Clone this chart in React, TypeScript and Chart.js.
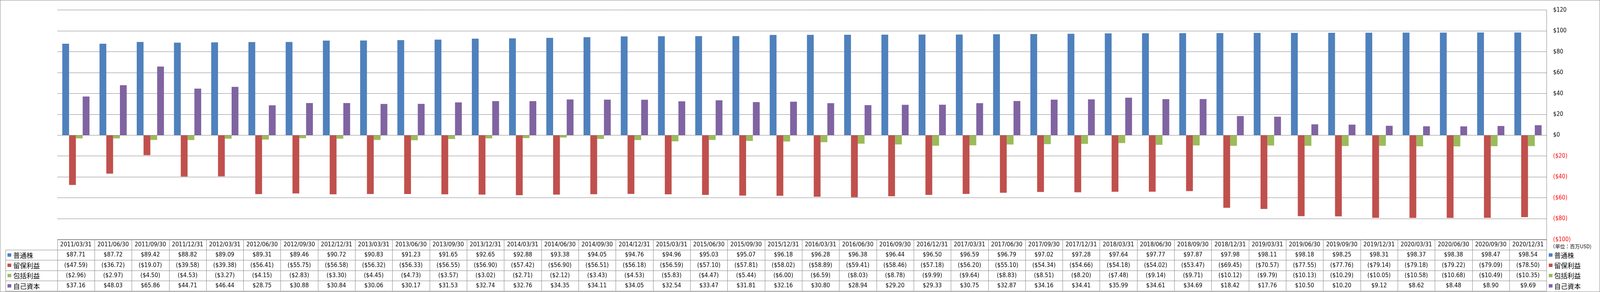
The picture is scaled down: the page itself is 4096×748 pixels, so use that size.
import React, { useEffect, useRef } from 'react';
import { Chart, registerables } from 'chart.js';

Chart.register(...registerables);

const dates = [
  '2011/03/31', '2011/06/30', '2011/09/30', '2011/12/31',
  '2012/03/31', '2012/06/30', '2012/09/30', '2012/12/31',
  '2013/03/31', '2013/06/30', '2013/09/30', '2013/12/31',
  '2014/03/31', '2014/06/30', '2014/09/30', '2014/12/31',
  '2015/03/31', '2015/06/30', '2015/09/30', '2015/12/31',
  '2016/03/31', '2016/06/30', '2016/09/30', '2016/12/31',
  '2017/03/31', '2017/06/30', '2017/09/30', '2017/12/31',
  '2018/03/31', '2018/06/30', '2018/09/30', '2018/12/31',
  '2019/03/31', '2019/06/30', '2019/09/30', '2019/12/31',
  '2020/03/31', '2020/06/30', '2020/09/30', '2020/12/31',
];

const commonStock = [
  87.71, 87.72, 89.42, 88.82, 89.09, 89.31, 89.46, 90.72,
  90.83, 91.23, 91.65, 92.65, 92.88, 93.38, 94.05, 94.76,
  94.96, 95.03, 95.07, 96.18, 96.28, 96.38, 96.44, 96.5,
  96.59, 96.79, 97.02, 97.28, 97.64, 97.77, 97.87, 97.98,
  98.11, 98.18, 98.25, 98.31, 98.37, 98.38, 98.47, 98.54,
];

const retainedEarnings = [
  -47.59, -36.72, -19.07, -39.58, -39.38, -56.41, -55.75, -56.58,
  -56.32, -56.33, -56.55, -56.9, -57.42, -56.9, -56.51, -56.18,
  -56.59, -57.1, -57.81, -58.02, -58.89, -59.41, -58.46, -57.18,
  -56.2, -55.1, -54.34, -54.66, -54.18, -54.02, -53.47, -69.45,
  -70.57, -77.55, -77.76, -79.14, -79.18, -79.22, -79.09, -78.5,
];

const comprehensiveIncome = [
  -2.96, -2.97, -4.5, -4.53, -3.27, -4.15, -2.83, -3.3,
  -4.45, -4.73, -3.57, -3.02, -2.71, -2.12, -3.43, -4.53,
  -5.83, -4.47, -5.44, -6.0, -6.59, -8.03, -8.78, -9.99,
  -9.64, -8.83, -8.51, -8.2, -7.48, -9.14, -9.71, -10.12,
  -9.79, -10.13, -10.29, -10.05, -10.58, -10.68, -10.49, -10.35,
];

const shareholdersEquity = [
  37.16, 48.03, 65.86, 44.71, 46.44, 28.75, 30.88, 30.84,
  30.06, 30.17, 31.53, 32.74, 32.76, 34.35, 34.11, 34.05,
  32.54, 33.47, 31.81, 32.16, 30.8, 28.94, 29.2, 29.33,
  30.75, 32.87, 34.16, 34.41, 35.99, 34.61, 34.69, 18.42,
  17.76, 10.5, 10.2, 9.12, 8.62, 8.48, 8.9, 9.69,
];

const seriesNames = ['普通株', '留保利益', '包括利益', '自己資本'];
const seriesColors = ['#4F81BD', '#C0504D', '#9BBB59', '#8064A2'];
const seriesData = [commonStock, retainedEarnings, comprehensiveIncome, shareholdersEquity];

const yMin = -100;
const yMax = 120;
const yStep = 20;
const unitLabel = '（単位：百万USD)';

const S = 0.871;
const W = 4096;
const H = 748;
const LINE = '#868686';
const NUM_FONT = '"DejaVu Sans Condensed", "DejaVu Sans", sans-serif';
const CJK_FONT = '"Noto Sans CJK JP", "Noto Sans", sans-serif';

const fmt = (v: number) => (v < 0 ? `($${(-v).toFixed(2)})` : `$${v.toFixed(2)}`);
const fmtTick = (v: number) => (v < 0 ? `($${-v})` : `$${v}`);

const px = (v: number) => Math.round(v) + 0.5;

const tablePlugin = {
  id: 'dataTable',
  afterDraw(chart: any) {
    const ctx: CanvasRenderingContext2D = chart.ctx;
    const xs = chart.scales.x;
    const area = chart.chartArea;
    const labels: string[] = chart.data.labels;
    const n = labels.length;
    const colW = (area.right - area.left) / n;
    const rowH = 30.2 * S;
    const top = area.bottom;
    const bottom = top + rowH * 5;
    const legendLeft = 16.3 * S;

    ctx.save();
    ctx.strokeStyle = LINE;
    ctx.lineWidth = 1;
    ctx.beginPath();
    // horizontal lines
    ctx.moveTo(area.left, px(top));
    ctx.lineTo(area.right, px(top));
    for (let k = 1; k <= 5; k++) {
      const y = px(top + k * rowH);
      ctx.moveTo(legendLeft, y);
      ctx.lineTo(area.right, y);
    }
    // vertical lines
    for (let i = 0; i <= n; i++) {
      const x = px(xs.getPixelForValue(Math.min(i, n - 1)) + (i === n ? colW / 2 : -colW / 2));
      ctx.moveTo(x, top);
      ctx.lineTo(x, bottom);
    }
    ctx.moveTo(px(legendLeft), top + rowH);
    ctx.lineTo(px(legendLeft), bottom);
    ctx.stroke();

    // header + values
    ctx.fillStyle = '#000';
    ctx.textAlign = 'center';
    ctx.textBaseline = 'middle';
    ctx.font = `15.5px ${NUM_FONT}`;
    for (let i = 0; i < n; i++) {
      const cx = xs.getPixelForValue(i);
      ctx.fillText(labels[i], cx, top + rowH * 0.5);
      chart.data.datasets.forEach((ds: any, r: number) => {
        ctx.fillText(fmt(ds.data[i]), cx, top + rowH * (r + 1.5));
      });
    }

    // legend keys in table
    ctx.textAlign = 'left';
    ctx.font = `17px ${CJK_FONT}`;
    chart.data.datasets.forEach((ds: any, r: number) => {
      const cy = top + rowH * (r + 1.5);
      ctx.fillStyle = ds.backgroundColor;
      ctx.fillRect(22 * S, cy - 4.3, 9.6, 8.7);
      ctx.fillStyle = '#000';
      ctx.fillText(ds.label, 39 * S, cy + 1);
    });

    // right side legend
    chart.data.datasets.forEach((ds: any, r: number) => {
      const cy = top + rowH * (r + 1.5);
      ctx.fillStyle = ds.backgroundColor;
      ctx.fillRect(4552 * S, cy - 4.3, 9.6, 8.7);
      ctx.fillStyle = '#000';
      ctx.fillText(ds.label, 4568 * S, cy + 1);
    });

    // unit label
    ctx.font = `12.7px ${CJK_FONT}`;
    ctx.fillStyle = '#000';
    ctx.fillText(unitLabel, 4556 * S, 725 * S);

    // outer border
    ctx.strokeStyle = LINE;
    ctx.strokeRect(0.5, 0.5, W - 1, H - 1);
    ctx.restore();
  },
};

export default function App() {
  const ref = useRef<HTMLCanvasElement>(null);

  useEffect(() => {
    if (!ref.current) return;
    const chart = new Chart(ref.current, {
      type: 'bar',
      data: {
        labels: dates,
        datasets: seriesData.map((d, i) => ({
          label: seriesNames[i],
          data: d,
          backgroundColor: seriesColors[i],
          borderWidth: 0,
          categoryPercentage: 0.731,
          barPercentage: 1,
        })),
      },
      options: {
        responsive: false,
        animation: false,
        layout: { padding: { left: 168.3 * S, right: 0, top: 14 * S, bottom: H - 704.7 * S } },
        plugins: { legend: { display: false }, tooltip: { enabled: false } },
        scales: {
          x: { display: false, offset: true, grid: { display: false } },
          y: {
            position: 'right',
            min: yMin,
            max: yMax,
            ticks: {
              stepSize: yStep,
              callback: (v: any) => fmtTick(Number(v)),
              color: (c: any) => (c.tick && c.tick.value < 0 ? '#FF0000' : '#000000'),
              font: { family: NUM_FONT, size: 15 },
              padding: (4565 - 4545.7) * S,
            },
            grid: { color: LINE, lineWidth: 1, drawTicks: false },
            border: { display: true, color: LINE, width: 1 },
            afterFit: (s: any) => {
              s.width = W - 4545.7 * S;
            },
          },
        },
      } as any,
      plugins: [tablePlugin],
    });
    return () => chart.destroy();
  }, []);

  return (
    <div style={{ position: 'absolute', left: 0, top: 0, width: W, height: H, background: '#fff' }}>
      <canvas ref={ref} width={W} height={H} style={{ display: 'block', width: W, height: H }} />
    </div>
  );
}
